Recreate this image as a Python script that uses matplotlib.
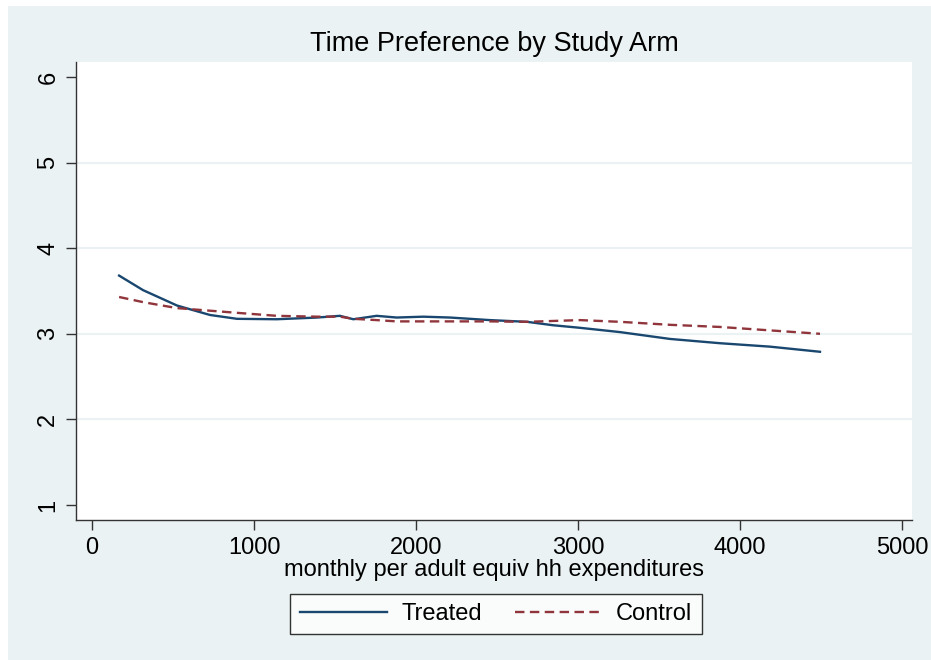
import numpy as np
import matplotlib.pyplot as plt
from matplotlib.patches import Rectangle

plt.rcParams['font.family'] = ['Liberation Sans', 'DejaVu Sans']

# smoothed curves
treated_x = [167, 315, 525, 728, 895, 1140, 1390, 1531, 1613, 1757, 1880, 2045,
             2210, 2457, 2685, 2846, 3012, 3259, 3568, 3877, 4185, 4494]
treated_y = [3.68, 3.51, 3.33, 3.22, 3.175, 3.17, 3.19, 3.21, 3.17, 3.21, 3.19, 3.20,
             3.19, 3.16, 3.14, 3.10, 3.07, 3.02, 2.94, 2.89, 2.85, 2.79]
control_x = [167, 315, 525, 728, 895, 1140, 1390, 1531, 1613, 1757, 1880, 2045,
             2210, 2457, 2685, 2846, 3012, 3259, 3568, 3877, 4185, 4494]
control_y = [3.43, 3.37, 3.30, 3.27, 3.245, 3.21, 3.20, 3.20, 3.175, 3.16, 3.145, 3.145,
             3.145, 3.145, 3.14, 3.15, 3.16, 3.14, 3.105, 3.08, 3.04, 3.00]

x_ticks = [0, 1000, 2000, 3000, 4000, 5000]
y_ticks = [1, 2, 3, 4, 5, 6]

bg = "#EAF2F3"
navy = "#1a476f"
maroon = "#90353b"

fig = plt.figure(figsize=(9.31, 6.60), dpi=100, facecolor="white")
fig.patches.append(Rectangle((8 / 931, 0), 1, 1 - 6 / 660, transform=fig.transFigure,
                             facecolor=bg, edgecolor="none", zorder=-10))

ax = fig.add_axes([76 / 931, 1 - 520 / 660, (912 - 76) / 931, (520 - 62) / 660])
ax.set_facecolor("white")

ax.plot(treated_x, treated_y, color=navy, lw=1.7, label="Treated")
ax.plot(control_x, control_y, color=maroon, lw=1.7, ls=(0, (4, 2.3)), label="Control")

ax.set_xlim(-99, 5062)
ax.set_ylim(0.825, 6.175)
ax.set_xticks(x_ticks)
ax.set_yticks(y_ticks)
for v in y_ticks[1:-1]:
    ax.axhline(v, color=bg, lw=1.5, zorder=0)

for s in ["top", "right"]:
    ax.spines[s].set_visible(False)
for s in ["left", "bottom"]:
    ax.spines[s].set_color("#333333")
    ax.spines[s].set_linewidth(1.0)

ax.tick_params(axis="both", direction="out", length=7, width=1, color="#333333",
               labelsize=17, pad=5)
plt.setp(ax.get_yticklabels(), rotation=90, va="center")

ax.set_xlabel("monthly per adult equiv hh expenditures", fontsize=17, labelpad=0)
ax.set_title("Time Preference by Study Arm", fontsize=19.5, pad=8)

leg = fig.legend(loc="center", bbox_to_anchor=(496 / 931, 1 - 614 / 660), ncol=2,
                 fontsize=17, frameon=True, fancybox=False, handlelength=3.7,
                 handletextpad=0.6, columnspacing=1.4, borderpad=0.4, borderaxespad=0)
leg.get_frame().set_edgecolor("black")
leg.get_frame().set_linewidth(1.0)
leg.get_frame().set_facecolor("white")

fig.savefig("out.png", dpi=100, facecolor=fig.get_facecolor())
